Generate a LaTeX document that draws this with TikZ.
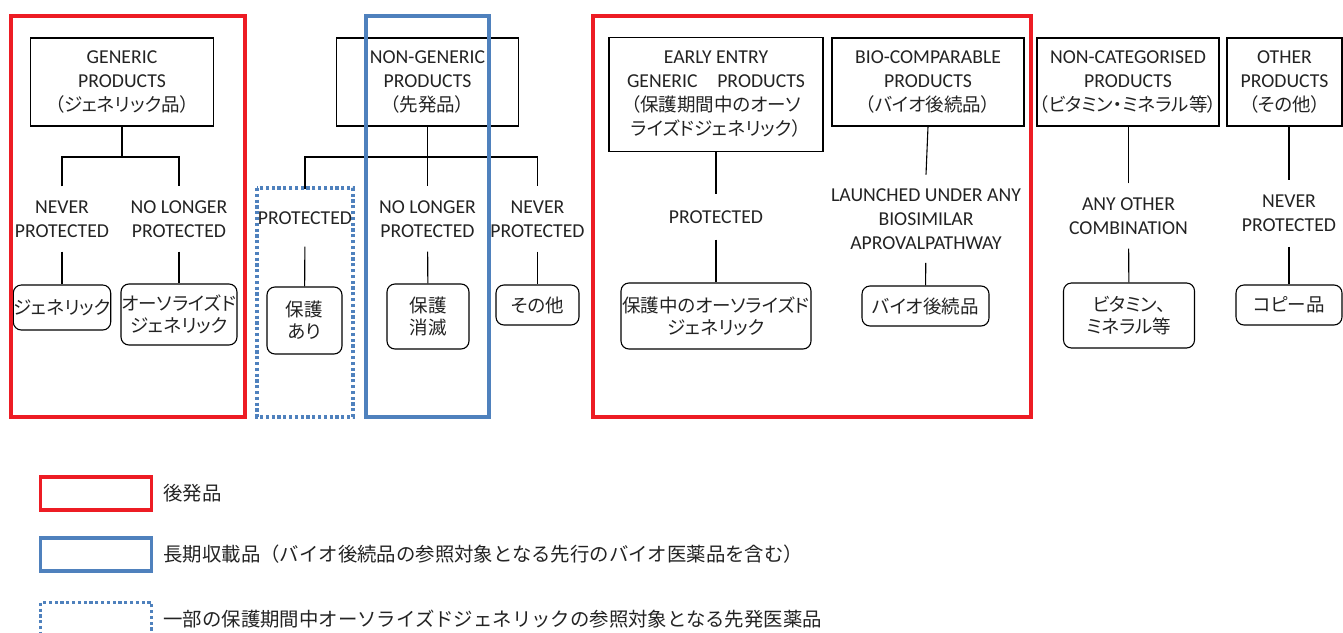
\documentclass[tikz,border=0pt]{standalone}
\usepackage{fontspec}
\setmainfont{Carlito}
\newfontfamily\jp[Scale=0.94, RawFeature=+palt]{Noto Sans CJK JP}
\newfontfamily\jpleg{Noto Sans CJK JP}
\definecolor{genred}{RGB}{237, 28, 36}
\definecolor{ltblue}{RGB}{79, 129, 189}
\definecolor{ink}{RGB}{35, 35, 35}
\usetikzlibrary{positioning}
\newcommand{\catfont}{\fontsize{19.7}{24}\selectfont}
\newcommand{\leaffont}{\fontsize{19.7}{22}\selectfont\jp}
\newcommand{\legfont}{\fontsize{19.4}{24}\selectfont\jpleg}

\begin{document}
\begin{tikzpicture}[x=1pt, y=-1pt,
  catbox/.style={draw, line width=1.1pt, align=center, inner sep=0pt, text=ink, font=\catfont},
  protlbl/.style={align=center, inner xsep=0pt, inner ysep=14pt, text=ink, font=\catfont},
  leafbox/.style={draw, rounded corners=8pt, line width=1.1pt, align=center, inner sep=0pt, text=ink, font=\leaffont},
  link/.style={line width=1.1pt},
  grpline/.style={line width=3.5pt},
  dotline/.style={line width=3.5pt, dash pattern=on 3.2pt off 2.6pt},
  legkey/.style={draw, line width=3.5pt, minimum width=111pt, minimum height=33pt, inner sep=0pt},
  legtxt/.style={inner sep=0pt, text=ink, font=\legfont}
]
  \useasboundingbox (0,0) rectangle (1343,632);

  % generic products
  \node[catbox, minimum width=183pt, minimum height=88pt] (gen) at (122,82) {GENERIC\\PRODUCTS\\{\jp （ジェネリック品）}};
  \node[protlbl] (gnever) at (62,219) {NEVER\\PROTECTED};
  \node[protlbl] (glonger) at (179,219) {NO LONGER\\PROTECTED};
  \node[leafbox, minimum width=96pt, minimum height=45pt] (gleaf1) at (62,307.5) {ジェネリック};
  \node[leafbox, minimum width=116pt, minimum height=61pt] (gleaf2) at (179,314.5) {オーソライズド\\ジェネリック};
  \coordinate (gj) at (122,157);
  \draw[link] (gen.south) -- (gj);
  \draw[link] (gnever.north) |- (gj) -| (glonger.north);
  \draw[link] (gnever) -- (gleaf1);
  \draw[link] (glonger) -- (gleaf2);

  % non-generic products
  \node[catbox, minimum width=182pt, minimum height=88pt] (ngen) at (427.5,82) {NON-GENERIC\\PRODUCTS\\{\jp （先発品）}};
  \node[protlbl, inner ysep=22pt] (nprot) at (305,218) {PROTECTED};
  \node[protlbl] (nlonger) at (427.5,219) {NO LONGER\\PROTECTED};
  \node[protlbl] (nnever) at (537.5,219) {NEVER\\PROTECTED};
  \node[leafbox, minimum width=75pt, minimum height=67pt] (nleaf1) at (304.5,320.5) {保護\\あり};
  \node[leafbox, minimum width=82pt, minimum height=65pt] (nleaf2) at (428,316.5) {保護\\消滅};
  \node[leafbox, minimum width=83pt, minimum height=40pt] (nleaf3) at (537.5,305) {その他};
  \coordinate (nj) at (427.5,157);
  \draw[link] (ngen.south) -- (nj) -- (nlonger.north);
  \draw[link] (nprot.north) |- (nj) -| (nnever.north);
  \draw[link] (nprot) -- (nleaf1);
  \draw[link] (nlonger) -- (nleaf2);
  \draw[link] (nnever) -- (nleaf3);

  % early entry generic products
  \node[catbox, minimum width=214pt, minimum height=114pt] (early) at (716,94.5) {EARLY ENTRY\\GENERIC\hspace{1em}PRODUCTS\\{\jp （保護期間中のオーソ}\\{\jp ライズドジェネリック）}};
  \node[protlbl, inner ysep=16pt] (eprot) at (716,217) {PROTECTED};
  \node[leafbox, minimum width=190pt, minimum height=66pt] (eleaf) at (716,316) {保護中のオーソライズド\\ジェネリック};
  \draw[link] (early) -- (eprot);
  \draw[link] (eprot) -- (eleaf);

  % bio-comparable products
  \node[catbox, minimum width=192pt, minimum height=88pt] (bio) at (928,82) {BIO-COMPARABLE\\PRODUCTS\\{\jp （バイオ後続品）}};
  \node[protlbl, inner ysep=13.5pt] (blaunch) at (926,218.7) {LAUNCHED UNDER ANY\\BIOSIMILAR\\APROVALPATHWAY};
  \node[leafbox, minimum width=127pt, minimum height=40pt] (bleaf) at (925.5,306) {バイオ後続品};
  \draw[link] (bio.south) -- (blaunch.north);
  \draw[link] (blaunch) -- (bleaf);

  % non-categorised products
  \node[catbox, minimum width=182pt, minimum height=88pt] (noncat) at (1128,82) {NON-CATEGORISED\\PRODUCTS\\{\jp （ビタミン・ミネラル等）}};
  \node[protlbl] (cany) at (1128.5,216) {ANY OTHER\\COMBINATION};
  \node[leafbox, minimum width=131pt, minimum height=65pt] (cleaf) at (1129,315.5) {ビタミン、\\ミネラル等};
  \draw[link] (cany.north) -- (cany.north |- noncat.south);
  \draw[link] (cany) -- (cleaf);

  % other products
  \node[catbox, minimum width=115pt, minimum height=88pt] (other) at (1284.5,82) {OTHER\\PRODUCTS\\{\jp （その他）}};
  \node[protlbl, inner ysep=15pt] (onever) at (1289,213.3) {NEVER\\PROTECTED};
  \node[leafbox, minimum width=106pt, minimum height=40pt] (oleaf) at (1289,305) {コピー品};
  \draw[link] (onever.north) -- (onever.north |- other.south);
  \draw[link] (onever) -- (oleaf);

  % groups
  \draw[grpline, genred] (11,16) rectangle (245,417);
  \draw[grpline, ltblue] (366,16) rectangle (489,417);
  \draw[dotline, ltblue] (257,188) rectangle (353,417);
  \draw[grpline, genred] (593,16) rectangle (1031,417);

  % legend
  \node[legkey, draw=genred] (kgen) at (96,493.5) {};
  \node[legtxt, right=10pt of kgen] (tgen) {後発品};
  \node[legkey, draw=ltblue] (klong) at (96,554.4) {};
  \node[legtxt, right=10pt of klong] (tlong) {長期収載品（バイオ後続品の参照対象となる先行のバイオ医薬品を含む）};
  \node[legkey, draw=ltblue, dotline] (kpart) at (96,619) {};
  \node[legtxt, right=10pt of kpart] (tpart) {一部の保護期間中オーソライズドジェネリックの参照対象となる先発医薬品};
\end{tikzpicture}
\end{document}
